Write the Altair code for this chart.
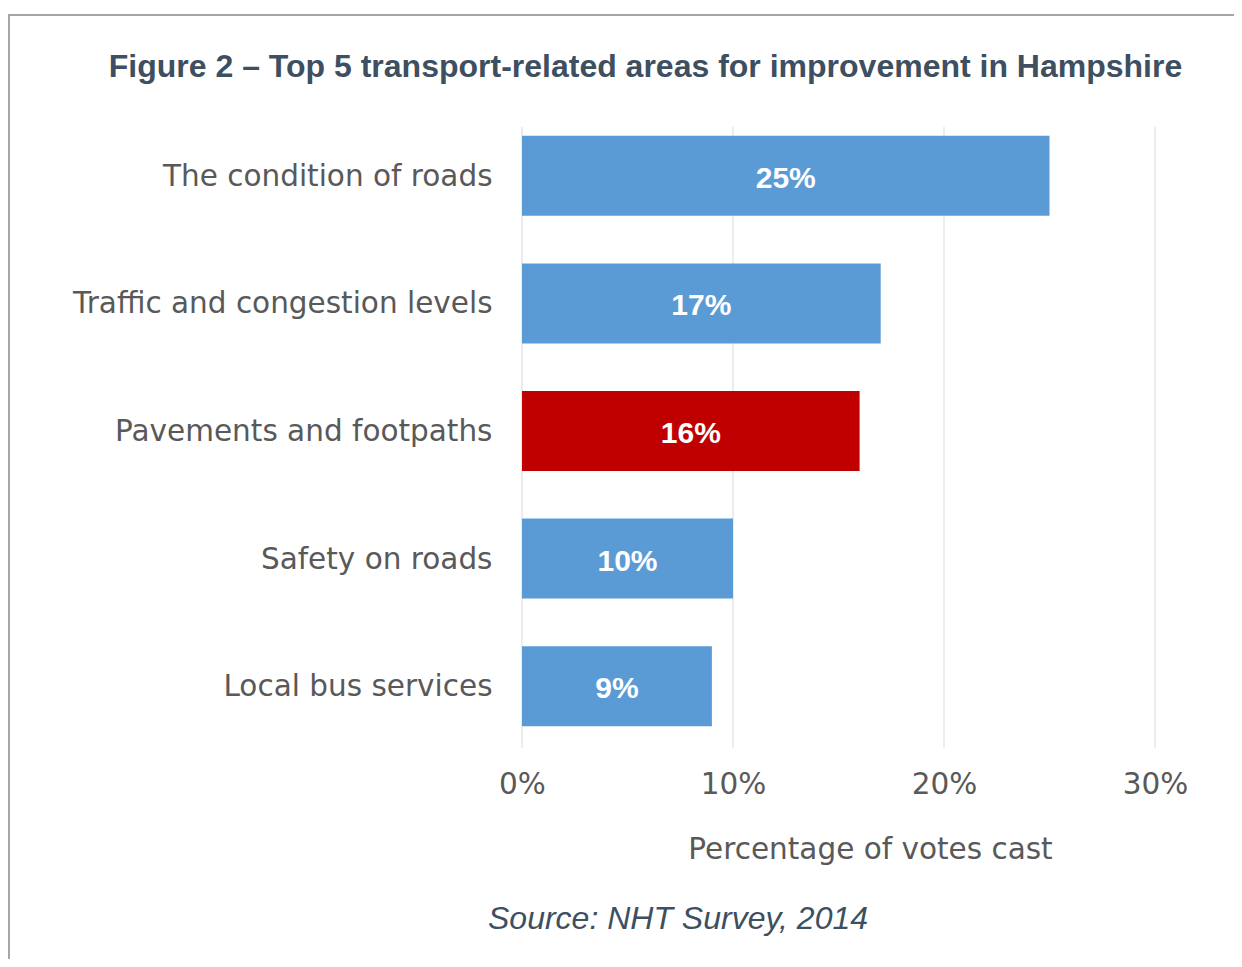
import altair as alt
import pandas as pd

categories = ["The condition of roads", "Traffic and congestion levels",
              "Pavements and footpaths", "Safety on roads", "Local bus services"]
values = [25, 17, 16, 10, 9]
highlight = "Pavements and footpaths"
tick_values = [0, 10, 20, 30]

title_text = "Figure 2 \u2013 Top 5 transport-related areas for improvement in Hampshire"
x_title = "Percentage of votes cast"
source_text = "Source: NHT Survey, 2014"

df = pd.DataFrame({"category": categories, "value": values})
df["label"] = [f"{v}%" for v in values]
grid_df = pd.DataFrame({"tick": tick_values})

W, H = 633, 638

x_scale = alt.Scale(domain=[0, 30], nice=False, zero=True)
y_scale = alt.Scale(domain=categories, paddingInner=0.373, paddingOuter=0.1865)

x_axis = alt.Axis(values=tick_values, labelExpr="datum.value + '%'",
                  grid=False, domain=False, ticks=False, labelFlush=False,
                  labelFont="DejaVu Sans", labelFontSize=29.5,
                  labelColor="#595959", labelPadding=20,
                  title=x_title, titleFont="DejaVu Sans",
                  titleFontSize=29.5, titleFontWeight="normal",
                  titleColor="#595959", titleX=348, titleY=108,
                  titleBaseline="alphabetic", titleAlign="center")

grid = alt.Chart(grid_df).mark_rule(color="#d9d9d9", strokeWidth=1).encode(
    x=alt.X("tick:Q", scale=x_scale, axis=x_axis),
    y=alt.value(15),
    y2=alt.value(636),
)

bars = alt.Chart(df).mark_bar().encode(
    x=alt.X("value:Q", scale=x_scale, axis=x_axis),
    y=alt.Y("category:N", scale=y_scale, sort=categories,
            axis=alt.Axis(title=None, domain=False, ticks=False, grid=False,
                          labelFont="DejaVu Sans", labelFontSize=29.5,
                          labelColor="#595959", labelPadding=30,
                          labelLimit=600, labelOffset=1)),
    color=alt.condition(alt.datum.category == highlight,
                        alt.value("#c00000"), alt.value("#5b9bd5")),
)

labels = alt.Chart(df).mark_text(
    color="white", font="Liberation Sans", fontWeight="bold", fontSize=30,
    align="center", baseline="middle", dy=3,
).encode(
    x=alt.X("mid:Q", scale=x_scale, axis=x_axis),
    y=alt.Y("category:N", scale=y_scale, sort=categories),
    text="label:N",
).transform_calculate(mid="datum.value / 2")

title = alt.Chart(pd.DataFrame({"t": [title_text]})).mark_text(
    font="Liberation Sans", fontWeight="bold", fontSize=32,
    color="#3d4f60", align="center", baseline="alphabetic",
).encode(x=alt.value(123.5), y=alt.value(-35), text="t:N")

source = alt.Chart(pd.DataFrame({"t": [source_text]})).mark_text(
    font="Liberation Sans", fontStyle="italic", fontSize=32,
    color="#3d4f60", align="center", baseline="alphabetic",
).encode(x=alt.value(156), y=alt.value(817), text="t:N")

border_v = alt.Chart(pd.DataFrame({"a": [0]})).mark_rule(
    color="#a6a6a6", strokeWidth=2).encode(
    x=alt.value(-513), y=alt.value(-98), y2=alt.value(847))
border_h = alt.Chart(pd.DataFrame({"a": [0]})).mark_rule(
    color="#a6a6a6", strokeWidth=2).encode(
    y=alt.value(-97), x=alt.value(-514), x2=alt.value(712))

chart = alt.layer(grid, bars, labels, title, source, border_v, border_h).properties(
    width=W, height=H,
    background="white",
    autosize=alt.AutoSizeParams(type="none"),
    padding={"left": 514, "top": 104, "right": 79, "bottom": 209},
).configure_view(stroke="transparent", strokeWidth=0)

chart.save("out.html", embed_options={"renderer": "svg", "actions": False})
